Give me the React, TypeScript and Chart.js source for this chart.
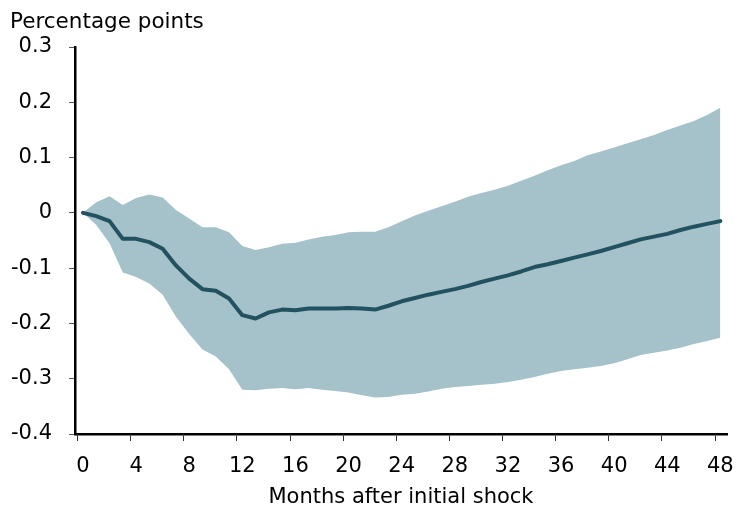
import React, { useEffect, useRef } from "react";
import { Chart, registerables } from "chart.js";

Chart.register(...registerables);

const months: number[] = Array.from({ length: 49 }, (_, i) => i);
const xTickValues: number[] = [0, 4, 8, 12, 16, 20, 24, 28, 32, 36, 40, 44, 48];

const median: number[] = [
  0, -0.006, -0.015, -0.047, -0.047, -0.053, -0.065, -0.095, -0.119, -0.138,
  -0.141, -0.155, -0.185, -0.191, -0.18, -0.175, -0.176, -0.173, -0.173, -0.173,
  -0.172, -0.173, -0.175, -0.168, -0.16, -0.154, -0.148, -0.143, -0.138, -0.132,
  -0.125, -0.119, -0.113, -0.106, -0.098, -0.093, -0.087, -0.081, -0.075, -0.069,
  -0.062, -0.055, -0.048, -0.043, -0.038, -0.031, -0.025, -0.02, -0.015,
];

const upper: number[] = [
  0, 0.019, 0.03, 0.014, 0.027, 0.033, 0.028, 0.005, -0.01, -0.026,
  -0.026, -0.035, -0.06, -0.067, -0.062, -0.056, -0.054, -0.048, -0.043, -0.04,
  -0.035, -0.034, -0.034, -0.026, -0.015, -0.005, 0.004, 0.012, 0.02, 0.029,
  0.036, 0.042, 0.049, 0.058, 0.067, 0.077, 0.086, 0.094, 0.104, 0.111,
  0.118, 0.126, 0.133, 0.141, 0.15, 0.158, 0.166, 0.177, 0.19,
];

const lower: number[] = [
  0, -0.022, -0.055, -0.108, -0.116, -0.128, -0.148, -0.188, -0.219, -0.247,
  -0.26, -0.283, -0.32, -0.321, -0.318, -0.317, -0.319, -0.317, -0.32, -0.322,
  -0.325, -0.33, -0.334, -0.333, -0.329, -0.327, -0.323, -0.318, -0.315, -0.313,
  -0.311, -0.309, -0.306, -0.302, -0.297, -0.291, -0.286, -0.283, -0.28, -0.277,
  -0.272, -0.265, -0.257, -0.253, -0.249, -0.244, -0.237, -0.232, -0.226,
];

const yTitle = "Percentage points";
const xTitle = "Months after initial shock";

const FONT = "'DejaVu Sans', Verdana, sans-serif";
const FSIZE = 21;
const BAND = "#a5c1ca";
const LINE = "#22515f";

const titlePlugin = {
  id: "yTitleText",
  afterDraw(chart: any) {
    const ctx = chart.ctx;
    ctx.save();
    ctx.font = `21.5px ${FONT}`;
    ctx.fillStyle = "#000";
    ctx.textAlign = "left";
    ctx.textBaseline = "alphabetic";
    ctx.fillText(yTitle, 10, 28);
    ctx.restore();
  },
};

// x tick marks sit slightly left of their labels, as in the original
const xTickMarks = {
  id: "xTickMarks",
  afterDraw(chart: any) {
    const ctx = chart.ctx;
    const xs = chart.scales.x;
    const bottom = chart.chartArea.bottom;
    ctx.save();
    ctx.strokeStyle = "#333";
    ctx.lineWidth = 1;
    xTickValues.forEach((m) => {
      const px = Math.round(xs.getPixelForValue(m - 0.44)) + 0.5;
      ctx.beginPath();
      ctx.moveTo(px, bottom);
      ctx.lineTo(px, bottom + 7);
      ctx.stroke();
    });
    ctx.restore();
  },
};

export default function App() {
  const ref = useRef<HTMLCanvasElement | null>(null);

  useEffect(() => {
    document.body.style.margin = "0";
    const toPts = (arr: number[]) => arr.map((v, i) => ({ x: months[i], y: v }));
    const chart = new Chart(ref.current as HTMLCanvasElement, {
      type: "line",
      data: {
        datasets: [
          {
            data: toPts(median),
            borderWidth: 4,
            pointRadius: 0,
            borderColor: LINE,
            fill: false,
            tension: 0,
            borderCapStyle: "round",
            borderJoinStyle: "round",
          },
          {
            data: toPts(upper),
            borderWidth: 0,
            pointRadius: 0,
            backgroundColor: BAND,
            borderColor: BAND,
            fill: "+1",
            tension: 0,
          },
          {
            data: toPts(lower),
            borderWidth: 0,
            pointRadius: 0,
            backgroundColor: BAND,
            borderColor: BAND,
            fill: false,
            tension: 0,
          },
        ],
      },
      options: {
        responsive: false,
        animation: false,
        layout: { padding: { top: 47, right: 18, left: 0, bottom: 0 } },
        plugins: { legend: { display: false }, tooltip: { enabled: false } },
        scales: {
          x: {
            type: "linear",
            min: -0.6,
            max: 48.5,
            afterBuildTicks(scale: any) {
              scale.ticks = xTickValues.map((m) => ({ value: m }));
            },
            afterFit(scale: any) {
              scale.height = 72;
              scale.paddingLeft = 0;
              scale.paddingRight = 0;
            },
            ticks: {
              font: { family: FONT, size: FSIZE },
              color: "#000",
              padding: 20,
              maxRotation: 0,
              autoSkip: false,
              callback: (v: any) => String(v),
            },
            grid: { drawOnChartArea: false, drawTicks: false },
            border: { color: "#000", width: 2.5 },
            title: {
              display: true,
              text: xTitle,
              font: { family: FONT, size: FSIZE },
              color: "#000",
              padding: { top: 0, bottom: -4 },
            },
          },
          y: {
            min: -0.4,
            max: 0.3,
            afterFit(scale: any) {
              scale.width = 75;
              scale.paddingTop = 0;
              scale.paddingBottom = 0;
            },
            ticks: {
              stepSize: 0.1,
              font: { family: FONT, size: FSIZE },
              color: "#000",
              padding: 17,
              callback: (v: any) => String(Math.round(Number(v) * 10) / 10),
            },
            grid: { drawOnChartArea: false, drawTicks: true, tickLength: 6, color: "#555", lineWidth: 1 },
            border: { color: "#000", width: 2.5 },
          },
        },
      },
      plugins: [titlePlugin, xTickMarks],
    } as any);
    return () => chart.destroy();
  }, []);

  return (
    <div style={{ position: "absolute", left: 0, top: 0, width: 745, height: 506 }}>
      <canvas ref={ref} width={745} height={506} style={{ display: "block", width: 745, height: 506 }} />
    </div>
  );
}
